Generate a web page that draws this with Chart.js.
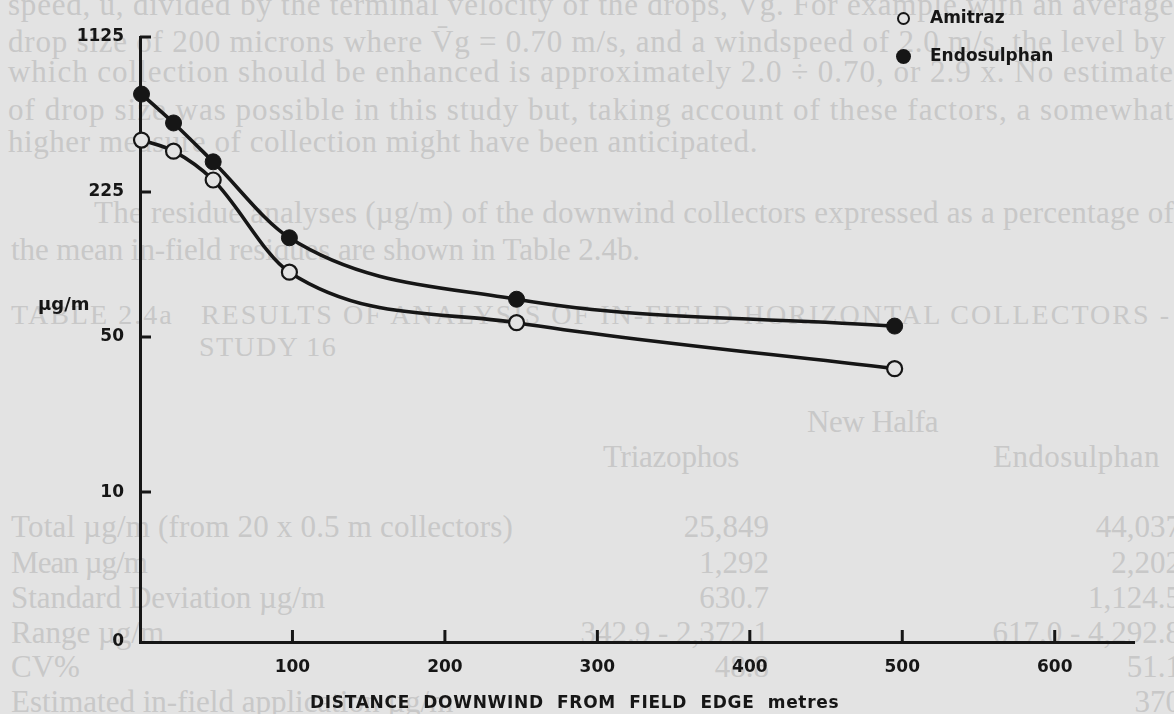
<!DOCTYPE html>
<html>
<head>
<meta charset="utf-8">
<title>Distance downwind from field edge</title>
<script src="https://cdn.jsdelivr.net/npm/chart.js@4.4.1/dist/chart.umd.min.js"></script>
<style>
  html, body { margin: 0; padding: 0; background: #e3e3e3; overflow: hidden; }
  #page { position: relative; width: 1174px; height: 714px; overflow: hidden; }
  /* faint page text behind the figure */
  .bg { position: absolute; font-family: "Liberation Serif", serif; font-size: 31px; line-height: 34px;
        color: #c8c8c8; white-space: nowrap; }
  .r { text-align: right; }
  #wrap { position: absolute; left: 0; top: 0; width: 1174px; height: 714px; }
  .lbl { position: absolute; font-family: "DejaVu Sans", sans-serif; font-weight: bold; color: #161616; white-space: nowrap; }
  .dot { position: absolute; border-radius: 50%; box-sizing: border-box; }
</style>
</head>
<body>
<div id="page">
  <div class="bg fit" data-w="1166" style="left:8px;top:-12px">speed, u, divided by the terminal velocity of the drops, Vg. For example with an average</div>
  <div class="bg fit" data-w="1159" style="left:8px;top:25px">drop size of 200 microns where V̄g = 0.70 m/s, and a windspeed of 2.0 m/s, the level by</div>
  <div class="bg fit" data-w="1166" style="left:8px;top:55px">which collection should be enhanced is approximately 2.0 ÷ 0.70, or 2.9 x. No estimate</div>
  <div class="bg fit" data-w="1166" style="left:8px;top:93px">of drop size was possible in this study but, taking account of these factors, a somewhat</div>
  <div class="bg fit" data-w="750" style="left:8px;top:125px">higher measure of collection might have been anticipated.</div>
  <div class="bg fit" data-w="1080" style="left:94px;top:196px">The residue analyses (µg/m) of the downwind collectors expressed as a percentage of</div>
  <div class="bg fit" data-w="629" style="left:11px;top:233px">the mean in-field residues are shown in Table 2.4b.</div>
  <div class="bg fit" data-w="1160" style="left:11px;top:298px;font-size:28px">TABLE 2.4a &nbsp; RESULTS OF ANALYSIS OF IN-FIELD HORIZONTAL COLLECTORS -</div>
  <div class="bg fit" data-w="138" style="left:199px;top:330px;font-size:28px">STUDY 16</div>
  <div class="bg fit" data-w="131" style="left:807px;top:405px">New Halfa</div>
  <div class="bg fit" data-w="136" style="left:603px;top:440px">Triazophos</div>
  <div class="bg fit" data-w="167" style="left:993px;top:440px">Endosulphan</div>
  <div class="bg fit" data-w="502" style="left:11px;top:510px">Total µg/m (from 20 x 0.5 m collectors)</div>
  <div class="bg fit" data-w="136" style="left:11px;top:546px">Mean µg/m</div>
  <div class="bg fit" data-w="314" style="left:11px;top:581px">Standard Deviation µg/m</div>
  <div class="bg" style="left:11px;top:616px">Range µg/m</div>
  <div class="bg" style="left:11px;top:650px">CV%</div>
  <div class="bg" style="left:11px;top:685px">Estimated in-field application µg/m</div>
  <div class="bg r" style="left:469px;width:300px;top:510px">25,849</div>
  <div class="bg r" style="left:469px;width:300px;top:546px">1,292</div>
  <div class="bg r" style="left:469px;width:300px;top:581px">630.7</div>
  <div class="bg r" style="left:469px;width:300px;top:616px">342.9 - 2,372.1</div>
  <div class="bg r" style="left:469px;width:300px;top:650px">48.8</div>
  <div class="bg r" style="left:881px;width:300px;top:510px">44,037</div>
  <div class="bg r" style="left:881px;width:300px;top:546px">2,202</div>
  <div class="bg r" style="left:881px;width:300px;top:581px">1,124.5</div>
  <div class="bg r" style="left:881px;width:300px;top:616px">617.0 - 4,292.8</div>
  <div class="bg r" style="left:881px;width:300px;top:650px">51.1</div>
  <div class="bg r" style="left:881px;width:300px;top:685px">370</div>

  <div id="wrap"><canvas id="driftChart"></canvas></div>

  <!-- legend -->
  <div class="dot" style="left:897px;top:12px;width:13px;height:13px;border:2px solid #161616"></div>
  <div class="lbl" style="left:930px;top:7px;font-size:17px">Amitraz</div>
  <div class="dot" style="left:896px;top:49px;width:15px;height:15px;background:#161616"></div>
  <div class="lbl" style="left:930px;top:45px;font-size:17px">Endosulphan</div>

  <div class="lbl" style="left:38px;top:293px;font-size:18px">µg/m</div>
  <div class="lbl" style="left:310px;top:692px;font-size:17px;letter-spacing:0.7px">DISTANCE&nbsp; DOWNWIND&nbsp; FROM&nbsp; FIELD&nbsp; EDGE&nbsp; metres</div>
</div>

<script>
// distance downwind (m) and deposit (µg/m)
const distances = [1, 22, 48, 98, 247, 495];
const amitraz = [386, 344, 255, 98, 58, 36];
const endosulphan = [622, 461, 308, 140, 74, 56];

const yTicks = [10, 50, 225, 1125];
const xTicks = [100, 200, 300, 400, 500, 600];
const yMin = 2.11;   // bottom of the axis, labelled "0"
const xMax = 652;

const ink = '#161616';
const paper = '#e3e3e3';

// stretch the faint scanned lines to the widths they have on the page
document.querySelectorAll('.fit').forEach(el => {
  const target = +el.dataset.w;
  const natural = el.getBoundingClientRect().width;
  el.style.letterSpacing = ((target - natural) / el.textContent.length) + 'px';
});

// tick marks point into the plot in the original
const inwardTicks = {
  id: 'inwardTicks',
  afterDraw(chart) {
    const { ctx, chartArea } = chart;
    const x = chart.scales.x, y = chart.scales.y;
    ctx.save();
    ctx.strokeStyle = ink;
    ctx.lineWidth = 3;
    ctx.beginPath();
    yTicks.forEach(v => {
      const py = y.getPixelForValue(v);
      ctx.moveTo(chartArea.left, py);
      ctx.lineTo(chartArea.left + 11, py);
    });
    xTicks.forEach(v => {
      const px = x.getPixelForValue(v);
      ctx.moveTo(px, chartArea.bottom);
      ctx.lineTo(px, chartArea.bottom - 12);
    });
    ctx.stroke();
    ctx.restore();
  }
};

const toPoints = vals => vals.map((v, i) => ({ x: distances[i], y: v }));

new Chart(document.getElementById('driftChart'), {
  type: 'line',
  data: {
    datasets: [
      {
        label: 'Endosulphan',
        data: toPoints(endosulphan),
        borderColor: ink,
        borderWidth: 3.6,
        pointRadius: 8,
        pointBackgroundColor: ink,
        pointBorderColor: ink,
        pointBorderWidth: 1,
        cubicInterpolationMode: 'monotone',
        clip: false
      },
      {
        label: 'Amitraz',
        data: toPoints(amitraz),
        borderColor: ink,
        borderWidth: 3.6,
        pointRadius: 7.5,
        pointBackgroundColor: paper,
        pointBorderColor: ink,
        pointBorderWidth: 2.2,
        cubicInterpolationMode: 'monotone',
        clip: false
      }
    ]
  },
  options: {
    responsive: true,
    maintainAspectRatio: false,
    animation: false,
    layout: { padding: { left: 0, top: 37, right: 40, bottom: 0 } },
    plugins: {
      legend: { display: false },
      tooltip: { enabled: false }
    },
    scales: {
      x: {
        type: 'linear',
        min: 0,
        max: xMax,
        afterBuildTicks: s => { s.ticks = xTicks.map(v => ({ value: v })); },
        afterFit: s => { s.height = 72; },
        grid: { display: false, drawTicks: false },
        border: { display: true, color: ink, width: 3 },
        ticks: {
          color: ink,
          padding: 15,
          maxRotation: 0,
          font: { family: 'DejaVu Sans', weight: 'bold', size: 17 }
        }
      },
      y: {
        type: 'logarithmic',
        min: yMin,
        max: 1125,
        afterBuildTicks: s => { s.ticks = [yMin].concat(yTicks).map(v => ({ value: v })); },
        afterFit: s => { s.width = 140; },
        grid: { display: false, drawTicks: false },
        border: { display: true, color: ink, width: 3 },
        ticks: {
          color: ink,
          padding: 16,
          callback: v => (v === yMin ? '0' : String(v)),
          font: { family: 'DejaVu Sans', weight: 'bold', size: 17 }
        }
      }
    }
  },
  plugins: [inwardTicks]
});
</script>
</body>
</html>
